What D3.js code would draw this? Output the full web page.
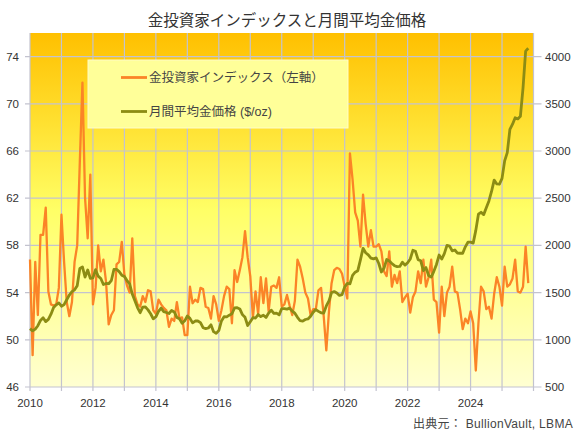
<!DOCTYPE html>
<html>
<head>
<meta charset="utf-8">
<script src="https://cdn.jsdelivr.net/npm/d3@7"></script>
<style>
  body { margin: 0; background: #fff; }
  svg { display: block; font-family: "Liberation Sans", Arial, "Noto Sans CJK JP", sans-serif; }
</style>
</head>
<body>
<svg></svg>
<script>
// monthly values, Jan 2010 - Nov 2025
const investorIndex = [
  56.8, 48.7, 56.6, 52.1, 58.9, 58.9, 61.2, 54.1, 53.0, 52.9, 53.0, 54.4,
  60.6, 56.6, 53.2, 52.0, 53.2, 56.6, 58.0, 65.1, 71.8, 62.0, 58.6, 64.0,
  53.0, 54.4, 58.0, 55.8, 56.8, 54.9, 51.3, 52.1, 52.5, 56.4, 56.6, 58.3,
  55.5, 54.6, 54.0, 58.6, 53.7, 53.0, 52.8, 53.7, 53.2, 54.2, 54.1, 52.5,
  52.2, 53.4, 53.0, 52.7, 52.5, 51.1, 51.8, 51.6, 53.2, 51.8, 51.9, 50.4,
  50.4, 54.5, 53.1, 53.4, 53.2, 54.4, 54.3, 52.8, 52.7, 51.8, 53.7, 53.0,
  51.6, 52.5, 53.7, 54.5, 54.3, 51.4, 55.9, 54.9, 55.9, 57.0, 59.2, 57.0,
  55.4, 51.9, 54.1, 52.2, 55.3, 53.1, 55.2, 52.4, 54.5, 54.6, 54.4, 55.3,
  52.8, 53.0, 53.8, 52.9, 52.1, 53.3, 56.8, 56.2, 55.2, 54.0, 53.5, 52.1,
  52.6, 52.6, 54.2, 54.4, 52.0, 49.1, 52.4, 54.8, 55.9, 56.1, 56.0, 55.6,
  54.5, 53.5, 65.8, 63.6, 60.8, 60.1, 57.9, 62.3, 59.8, 57.9, 59.3, 57.9,
  57.9, 58.1, 57.5, 55.8, 55.4, 57.5, 54.5, 55.5, 54.8, 55.8, 53.2, 53.6,
  53.9, 52.3, 53.6, 54.1, 55.8, 54.8, 56.8, 54.5, 55.3, 56.8, 53.4, 53.2,
  50.6, 54.5, 52.0, 54.0, 54.5, 56.2, 54.1, 54.0, 52.6, 50.9, 51.8, 51.4,
  52.4, 51.4, 47.4, 51.4, 54.5, 54.1, 52.6, 52.8, 51.8, 53.9, 55.3, 54.5,
  52.9, 56.2, 54.5, 54.7, 55.2, 56.8, 54.1, 54.0, 54.5, 57.9, 54.8
];

const goldPrice = [
  1118, 1095, 1113, 1149, 1205, 1233, 1193, 1216, 1271, 1342, 1370, 1391,
  1356, 1373, 1424, 1474, 1510, 1529, 1573, 1756, 1772, 1665, 1739, 1652,
  1656, 1743, 1674, 1650, 1586, 1597, 1594, 1626, 1745, 1747, 1722, 1685,
  1671, 1628, 1593, 1485, 1414, 1342, 1287, 1347, 1349, 1317, 1276, 1222,
  1244, 1300, 1336, 1298, 1289, 1279, 1311, 1295, 1237, 1222, 1175, 1201,
  1252, 1227, 1179, 1199, 1199, 1182, 1128, 1118, 1125, 1159, 1086, 1068,
  1098, 1200, 1245, 1242, 1261, 1276, 1337, 1340, 1327, 1267, 1238, 1151,
  1192, 1234, 1231, 1267, 1246, 1260, 1237, 1283, 1314, 1280, 1282, 1264,
  1331, 1331, 1325, 1335, 1303, 1282, 1238, 1202, 1198, 1215, 1221, 1250,
  1292, 1320, 1301, 1286, 1284, 1359, 1413, 1500, 1511, 1495, 1470, 1479,
  1561, 1597, 1592, 1683, 1716, 1732, 1847, 1969, 1922, 1900, 1866, 1858,
  1867, 1808, 1718, 1760, 1850, 1835, 1808, 1785, 1775, 1777, 1822, 1791,
  1816, 1856, 1948, 1937, 1849, 1837, 1733, 1765, 1681, 1664, 1725, 1798,
  1898, 1855, 1913, 2000, 1992, 1943, 1951, 1918, 1917, 1917, 1985, 2034,
  2034, 2024, 2159, 2331, 2351, 2326, 2398, 2471, 2571, 2691, 2651, 2648,
  2710, 2895, 2983, 3230, 3284, 3353, 3340, 3368, 3666, 4058, 4088
];

const leftTicks = [46, 50, 54, 58, 62, 66, 70, 74];
const rightTicks = [500, 1000, 1500, 2000, 2500, 3000, 3500, 4000];
const yearLabels = [2010, 2012, 2014, 2016, 2018, 2020, 2022, 2024];
const seriesNames = ['金投資家インデックス（左軸）', '月間平均金価格 ($/oz)'];
const titleText = '金投資家インデックスと月間平均金価格';
const sourceText = '出典元： BullionVault, LBMA';

const width = 577;
const height = 434;
const margin = { left: 30, top: 33, right: 43.5, bottom: 47 };

const svg = d3.select('svg').attr('width', width).attr('height', height);

const x = d3.scaleLinear().domain([2010, 2026]).range([margin.left, width - margin.right]);
const yL = d3.scaleLinear().domain([46, 76]).range([height - margin.bottom, margin.top]);
const yR = d3.scaleLinear().domain([500, 4250]).range([height - margin.bottom, margin.top]);

const monthX = (i) => x(2010 + i / 12);

// background gradient
const defs = svg.append('defs');
const grad = defs.append('linearGradient')
  .attr('id', 'bg').attr('x1', 0).attr('y1', 0).attr('x2', 0).attr('y2', 1);
grad.append('stop').attr('offset', '0%').attr('stop-color', '#ffc000');
grad.append('stop').attr('offset', '25%').attr('stop-color', '#ffe030');
grad.append('stop').attr('offset', '50%').attr('stop-color', '#ffff66');
grad.append('stop').attr('offset', '100%').attr('stop-color', '#ffffd2');

svg.append('rect')
  .attr('x', x(2010)).attr('y', margin.top)
  .attr('width', x(2026) - x(2010)).attr('height', yL(46) - margin.top)
  .attr('fill', 'url(#bg)');

const gridColor = '#c3c3cf';

// vertical grid
svg.append('g')
  .selectAll('line')
  .data(d3.range(2010, 2027))
  .join('line')
  .attr('x1', (d) => x(d)).attr('x2', (d) => x(d))
  .attr('y1', margin.top).attr('y2', yL(46) + 4)
  .attr('stroke', gridColor).attr('stroke-width', 1.2);

// horizontal grid
svg.append('g')
  .selectAll('line')
  .data(leftTicks)
  .join('line')
  .attr('x1', x(2010) - 5).attr('x2', x(2026) + 8)
  .attr('y1', (d) => yL(d)).attr('y2', (d) => yL(d))
  .attr('stroke', gridColor).attr('stroke-width', 1.2);

// left labels
svg.append('g')
  .selectAll('text')
  .data(leftTicks)
  .join('text')
  .attr('x', 19).attr('y', (d) => yL(d)).attr('dy', '0.35em')
  .attr('text-anchor', 'end')
  .attr('font-size', 11.5).attr('fill', '#333')
  .text((d) => d);

// right labels
svg.append('g')
  .selectAll('text')
  .data(rightTicks)
  .join('text')
  .attr('x', 545).attr('y', (d) => yR(d)).attr('dy', '0.35em')
  .attr('font-size', 11.5).attr('fill', '#333')
  .text((d) => d);

// x labels
svg.append('g')
  .selectAll('text')
  .data(yearLabels)
  .join('text')
  .attr('x', (d) => x(d)).attr('y', 407)
  .attr('text-anchor', 'middle')
  .attr('font-size', 11.5).attr('fill', '#333')
  .text((d) => d);

// lines
const indexLine = d3.line().x((d, i) => monthX(i)).y((d) => yL(d));
const goldLine = d3.line().x((d, i) => monthX(i)).y((d) => yR(d));

svg.append('path')
  .datum(investorIndex)
  .attr('d', indexLine)
  .attr('fill', 'none').attr('stroke', '#fb8427')
  .attr('stroke-width', 2.3).attr('stroke-linejoin', 'round');

svg.append('path')
  .datum(goldPrice)
  .attr('d', goldLine)
  .attr('fill', 'none').attr('stroke', '#8c8c14')
  .attr('stroke-width', 2.8).attr('stroke-linejoin', 'round');

// legend
const legend = svg.append('g');
legend.append('rect')
  .attr('x', 88).attr('y', 60).attr('width', 260).attr('height', 68)
  .attr('fill', '#ffff99').attr('stroke', '#fffcc8').attr('stroke-width', 1);

const legendColors = ['#fb8427', '#8c8c14'];
const legendRows = legend.selectAll('g')
  .data(seriesNames)
  .join('g')
  .attr('transform', (d, i) => `translate(0, ${77.5 + i * 34})`);

legendRows.append('line')
  .attr('x1', 121).attr('x2', 147).attr('y1', 0).attr('y2', 0)
  .attr('stroke', (d, i) => legendColors[i]).attr('stroke-width', 2.8);

legendRows.append('text')
  .attr('x', 149).attr('y', 0).attr('dy', '0.36em')
  .attr('font-size', 12.5).attr('fill', '#444')
  .text((d) => d);

// title
svg.append('text')
  .attr('x', 287).attr('y', 26)
  .attr('text-anchor', 'middle')
  .attr('font-size', 15.5).attr('fill', '#333')
  .text(titleText);

// source
svg.append('text')
  .attr('x', 573).attr('y', 428)
  .attr('text-anchor', 'end')
  .attr('font-size', 12).attr('fill', '#444')
  .attr('letter-spacing', 0.3)
  .text(sourceText);
</script>
</body>
</html>
